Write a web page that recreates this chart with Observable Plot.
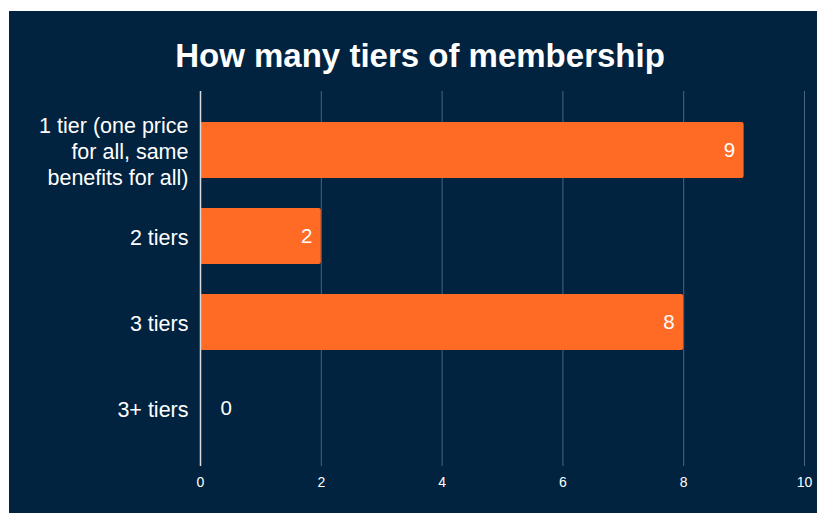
<!DOCTYPE html>
<html>
<head>
<meta charset="utf-8">
<script src="https://cdn.jsdelivr.net/npm/d3@7"></script>
<script src="https://cdn.jsdelivr.net/npm/@observablehq/plot@0.6"></script>
<style>
  html, body { margin: 0; padding: 0; background: #ffffff; }
  #panel { position: absolute; left: 9px; top: 11px; width: 808px; height: 502px; background: #012340; overflow: hidden; font-family: "Liberation Sans", Arial, sans-serif; }
  #title { position: absolute; left: 0; top: 26px; width: 822px; text-align: center; color: #ffffff; font-weight: bold; font-size: 33px; line-height: 38px; }
  #chart { position: absolute; left: 0; top: 69px; }
</style>
</head>
<body>
<div id="panel">
  <div id="title">How many tiers of membership</div>
  <div id="chart"></div>
</div>
<script>
const categories = ["1 tier (one price for all, same benefits for all)", "2 tiers", "3 tiers", "3+ tiers"];
const categoryLabels = ["1 tier (one price\nfor all, same\nbenefits for all)", "2 tiers", "3 tiers", "3+ tiers"];
const values = [9, 2, 8, 0];
const xTicks = [0, 2, 4, 6, 8, 10];

const data = categories.map((c, i) => ({category: c, label: categoryLabels[i], value: values[i]}));
const labelOf = new Map(categories.map((c, i) => [c, categoryLabels[i]]));

const chart = Plot.plot({
  width: 808,
  height: 433,
  marginTop: 11,
  marginBottom: 47,
  marginLeft: 191,
  marginRight: 13,
  style: {background: "transparent", color: "#ffffff", fontFamily: "'Liberation Sans', Arial, sans-serif"},
  x: {domain: [0, 10], axis: null},
  y: {domain: categories, padding: 0.35, axis: null},
  marks: [
    Plot.gridX(xTicks, {stroke: "#4c6480", strokeOpacity: 1, strokeWidth: 1}),
    Plot.axisX(xTicks, {tickSize: 0, tickPadding: 11, fontSize: 14, fill: "#ffffff", anchor: "bottom", label: null}),
    Plot.axisY({tickSize: 0, tickPadding: 12, fontSize: 21.5, fill: "#ffffff", lineHeight: 1.2, tickFormat: d => labelOf.get(d), label: null}),
    Plot.barX(data, {x: "value", y: "category", fill: "#ff6a24", rx: 2}),
    Plot.ruleX([0], {stroke: "#d9d9d9", strokeWidth: 1.5}),
    Plot.text(data.filter(d => d.value > 0), {x: "value", y: "category", text: d => String(d.value), textAnchor: "end", dx: -9, fill: "#ffffff", fontSize: 20.5}),
    Plot.text(data.filter(d => d.value === 0), {x: "value", y: "category", text: d => String(d.value), textAnchor: "start", dx: 20, fill: "#ffffff", fontSize: 20.5})
  ]
});
document.getElementById("chart").appendChild(chart);
</script>
</body>
</html>
